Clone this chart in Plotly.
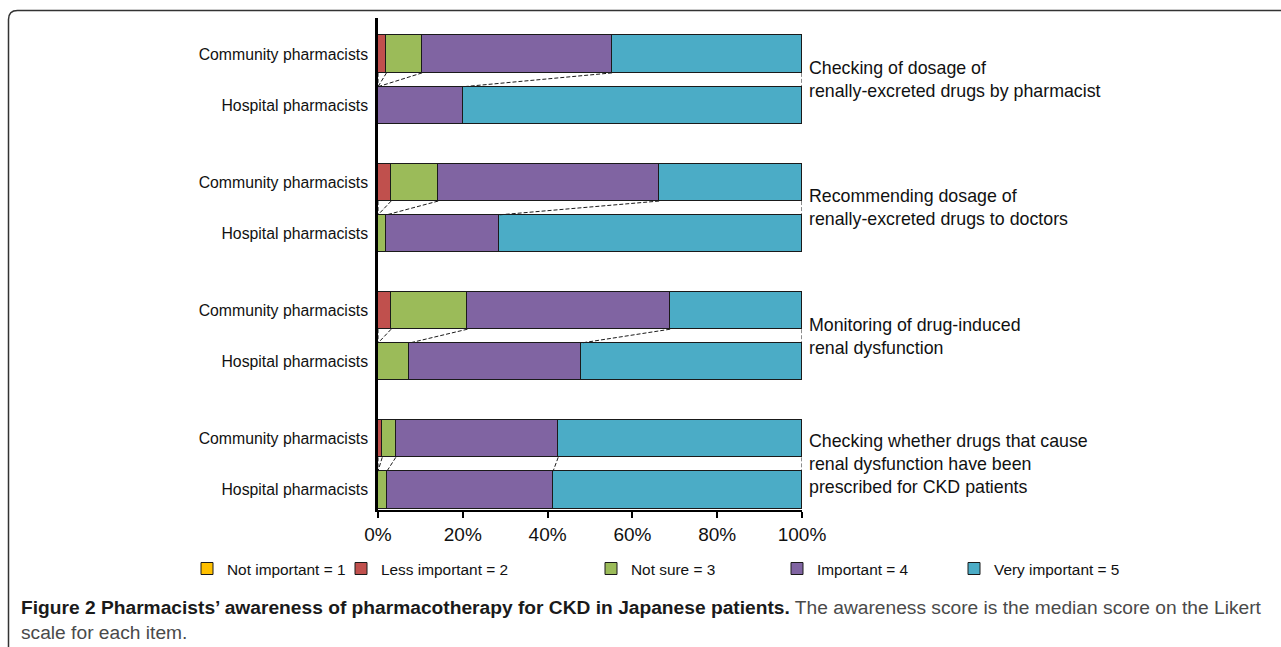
import numpy as np
import plotly.graph_objects as go

# ---------------- data ----------------
items = [
    "Checking of dosage of<br>renally-excreted drugs by pharmacist",
    "Recommending dosage of<br>renally-excreted drugs to doctors",
    "Monitoring of drug-induced<br>renal dysfunction",
    "Checking whether drugs that cause<br>renal dysfunction have been<br>prescribed for CKD patients",
]
groups = ["Community pharmacists", "Hospital pharmacists"]
series_names = ["Not important = 1", "Less important = 2", "Not sure = 3",
                "Important = 4", "Very important = 5"]
# order of rows: item1-community, item1-hospital, item2-community, ...
not_important = [0, 0, 0, 0, 0, 0, 0, 0]
less_important = [2.0, 0, 3.1, 0, 3.1, 0, 1.0, 0]
not_sure = [8.4, 0, 11.1, 2.0, 18.0, 7.4, 3.2, 2.1]
important = [44.8, 20.1, 52.1, 26.5, 47.8, 40.5, 38.3, 39.2]
very_important = [44.8, 79.9, 33.7, 71.5, 31.1, 52.1, 57.5, 58.7]
x_ticks = [0, 20, 40, 60, 80, 100]
caption_bold = "Figure 2 Pharmacists\u2019 awareness of pharmacotherapy for CKD in Japanese patients."
caption_rest = "The awareness score is the median score on the Likert<br>scale for each item."

# ---------------- style ----------------
colors = ["#FFC000", "#C0504D", "#9BBB59", "#8064A2", "#4BACC6"]
FONT = "Liberation Sans, Arial, Helvetica, sans-serif"
W, H = 1281, 647
X0, X1, Y0, Y1 = 378, 802, 18, 510
BAR_W = 0.73
GROUP_STEP = 2.5


def pxx(p):
    return (p - X0) / (X1 - X0)


def pxy(p):
    return (Y1 - p) / (Y1 - Y0)


series = [not_important, less_important, not_sure, important, very_important]
n_items = len(items)
positions = []
labels = []
for g in range(n_items):
    for k, name in enumerate(groups):
        positions.append(g * GROUP_STEP + k)
        labels.append(name)

fig = go.Figure()
legend_x_px = [187, 341, 591, 777, 954]
legend_keys = ["legend", "legend2", "legend3", "legend4", "legend5"]
for i, (name, vals) in enumerate(zip(series_names, series)):
    fig.add_trace(go.Bar(
        y=positions, x=vals, orientation="h", name=name,
        width=BAR_W,
        marker=dict(color=colors[i], line=dict(color="#1a1a1a", width=1)),
        legend=legend_keys[i],
        hoverinfo="x+name",
    ))

# dashed connectors between community and hospital bars
cum = np.cumsum(np.array(series), axis=0)  # shape (5, rows)
cx, cy = [], []
for g in range(n_items):
    c_row, h_row = 2 * g, 2 * g + 1
    y_top = positions[c_row] + BAR_W / 2
    y_bot = positions[h_row] - BAR_W / 2
    for j in range(len(series)):
        cx += [cum[j, c_row], cum[j, h_row], None]
        cy += [y_top, y_bot, None]
fig.add_trace(go.Scatter(x=cx, y=cy, mode="lines",
                         line=dict(color="#1a1a1a", width=1, dash="4px,2px"),
                         showlegend=False, hoverinfo="skip"))

# right-side item labels
for g, txt in enumerate(items):
    fig.add_annotation(x=100, y=g * GROUP_STEP + 0.5, xref="x", yref="y",
                       text=txt, showarrow=False, xanchor="left", yanchor="middle",
                       align="left", xshift=5,
                       font=dict(family=FONT, size=17.8, color="#111"))

# caption
fig.add_annotation(x=pxx(19), y=pxy(595), xref="paper", yref="paper",
                   xanchor="left", yanchor="top", align="left", showarrow=False,
                   text=f"<b>{caption_bold}</b> <span style='color:#4a4a4a'>{caption_rest}</span>",
                   font=dict(family=FONT, size=19.2, color="#1a1a1a"))

# rounded frame (top and left edges visible)
r = 9
fx0, fy0 = 8.5, 10.5
path = (f"M {pxx(fx0)},{pxy(H + 20)} L {pxx(fx0)},{pxy(fy0 + r)} "
        f"Q {pxx(fx0)},{pxy(fy0)} {pxx(fx0 + r)},{pxy(fy0)} L {pxx(W + 20)},{pxy(fy0)}")
fig.add_shape(type="path", path=path, xref="paper", yref="paper",
              line=dict(color="#333", width=1.5))

# y range in data units from pixel geometry
unit = 51.0
top_val = positions[0] - (54 - Y0) / unit
bot_val = positions[-1] + (Y1 - 490) / unit

legend_common = dict(orientation="h", yanchor="middle", xanchor="left",
                     y=pxy(569), bgcolor="rgba(0,0,0,0)",
                     font=dict(family=FONT, size=15.4, color="#111"),
                     itemwidth=30, tracegroupgap=0)
layout_legends = {}
for key, xp in zip(legend_keys, legend_x_px):
    layout_legends[key] = dict(legend_common, x=pxx(xp))

fig.update_layout(
    width=W, height=H,
    margin=dict(l=X0, r=W - X1, t=Y0, b=H - Y1, pad=0),
    paper_bgcolor="white", plot_bgcolor="white",
    barmode="stack", bargap=0,
    showlegend=True,
    font=dict(family=FONT, color="#111"),
    xaxis=dict(range=[0, 100], tickvals=x_ticks,
               ticktext=[f"{v}%" for v in x_ticks],
               showgrid=False, zeroline=False, showline=True,
               linecolor="black", linewidth=2, ticks="outside",
               ticklen=6, tickwidth=1.5, tickcolor="black",
               tickfont=dict(family=FONT, size=19, color="#111")),
    yaxis=dict(range=[bot_val, top_val], tickvals=positions, ticktext=labels,
               showgrid=False, zeroline=False, showline=True,
               linecolor="black", linewidth=2.5, ticks="",
               ticklabelstandoff=4,
               tickfont=dict(family=FONT, size=15.8, color="#111")),
    **layout_legends,
)

fig.write_html("out.html", config={"displayModeBar": False},
               post_script="document.body.style.margin='0';document.body.style.overflow='hidden';")
